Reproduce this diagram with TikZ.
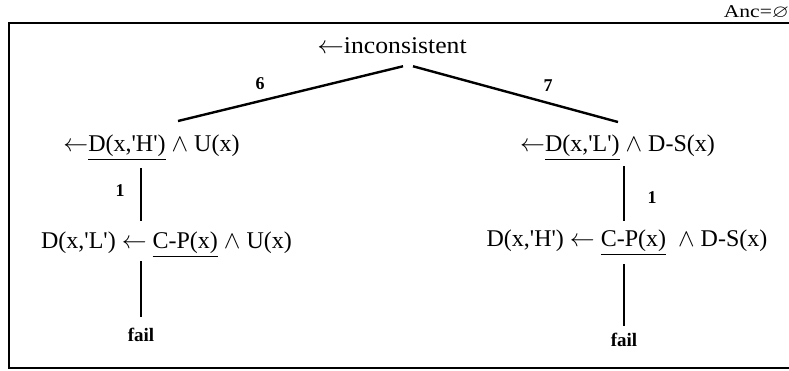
\documentclass[tikz,border=0pt]{standalone}
\usepackage{amssymb}
\usepackage{fontspec}
\setmainfont{Liberation Serif}
\usetikzlibrary{calc}
\newcommand{\qs}{\textquotesingle}
\begin{document}
\begin{tikzpicture}[x=1pt,y=-1pt,
  term/.style={inner sep=0pt,font=\fontsize{24}{27}\selectfont},
  lab/.style={inner sep=0pt,font=\fontsize{18}{20}\selectfont\bfseries},
  faillab/.style={inner sep=0pt,font=\fontsize{19}{21}\selectfont\bfseries},
  conn/.style={line width=2.4pt},
  frame/.style={line width=1.8pt}]
\useasboundingbox (0,0) rectangle (789,371);
\draw[frame] (789,23) -- (9,23) -- (9,368) -- (789,368);
\node[inner sep=0pt,anchor=east,font=\fontsize{18}{20}\selectfont] (anc) at (789,12) {\scalebox{1.2}[1]{Anc=$\varnothing$}};
\node[term] (root) at (392,46) {\scalebox{1.07}[1]{$\leftarrow$inconsistent}};
\node[term] (l1) at (151.5,148) {$\leftarrow$\underline{D(x,\qs H\qs)} $\wedge$ U(x)};
\node[term] (l2) at (166.5,245) {D(x,\qs L\qs) $\leftarrow$ \underline{C-P(x)} $\wedge$ U(x)};
\node[faillab] (lf) at (141,335) {fail};
\node[term] (r1) at (617.5,148) {$\leftarrow$\underline{D(x,\qs L\qs)} $\wedge$ D-S(x)};
\node[term] (r2) at (627,243) {D(x,\qs H\qs) $\leftarrow$ \underline{C-P(x)} \ $\wedge$ D-S(x)};
\node[faillab] (rf) at (624,340) {fail};
\node[lab] (n6) at (260,84) {6};
\node[lab] (n7) at (548,86) {7};
\node[lab] (n1l) at (120,191) {1};
\node[lab] (n1r) at (652,198) {1};
\draw[conn] ($(root.south)+(11,12)$) -- ($(l1.north)+(26.5,-13.5)$);
\draw[conn] ($(root.south)+(21,12)$) -- ($(r1.north)+(0.5,-12.5)$);
\draw[conn] ($(l1.south -| lf.north)+(0,7)$) -- ($(l2.north -| lf.north)+(0,-11)$);
\draw[conn] ($(l2.south -| lf.north)+(0,3)$) -- ($(lf.north)+(0,-11)$);
\draw[conn] ($(r1.south -| rf.north)+(0,5)$) -- ($(r2.north -| rf.north)+(0,-9)$);
\draw[conn] ($(r2.south -| rf.north)+(0,8)$) -- ($(rf.north)+(0,-7)$);
\end{tikzpicture}
\end{document}
